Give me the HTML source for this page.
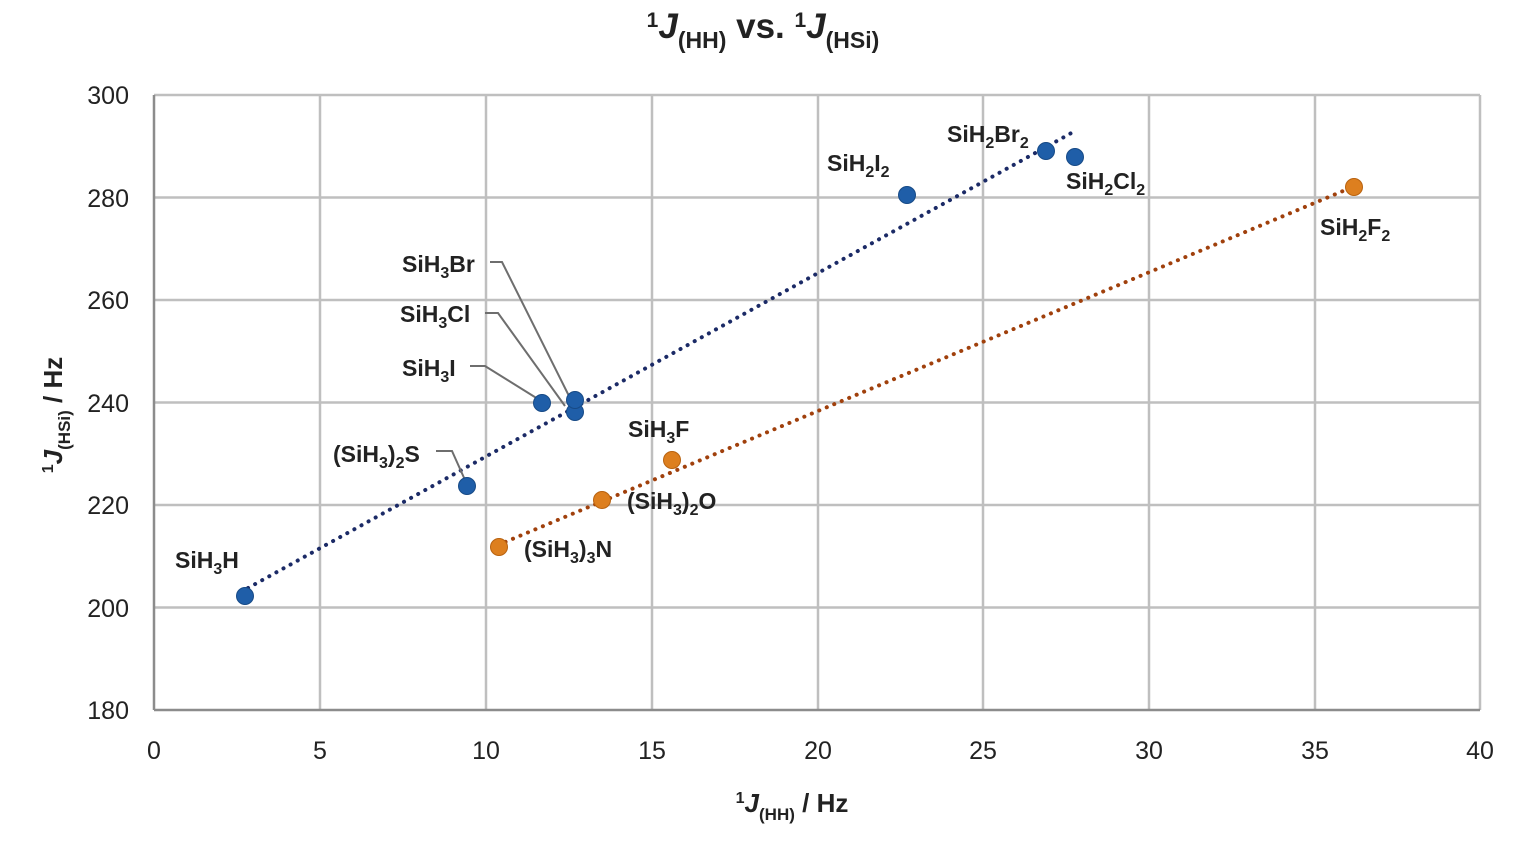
<!DOCTYPE html>
<html><head><meta charset="utf-8"><style>
html,body{margin:0;padding:0;background:#fff;}
svg{display:block;font-family:"Liberation Sans",sans-serif;}
.t{font-size:25px;fill:#222;}
.l{font-size:23px;font-weight:bold;fill:#222;}
.s{font-size:16px;}
</style></head><body>
<svg width="1522" height="853" viewBox="0 0 1522 853" xmlns="http://www.w3.org/2000/svg">
<rect width="1522" height="853" fill="#fff"/>
<g stroke="#bfbfbf" stroke-width="2.5">
<line x1="154" y1="95" x2="1480" y2="95"/>
<line x1="154" y1="197.5" x2="1480" y2="197.5"/>
<line x1="154" y1="300" x2="1480" y2="300"/>
<line x1="154" y1="402.5" x2="1480" y2="402.5"/>
<line x1="154" y1="505" x2="1480" y2="505"/>
<line x1="154" y1="607.5" x2="1480" y2="607.5"/>
<line x1="320" y1="95" x2="320" y2="710"/>
<line x1="486" y1="95" x2="486" y2="710"/>
<line x1="652" y1="95" x2="652" y2="710"/>
<line x1="818" y1="95" x2="818" y2="710"/>
<line x1="983" y1="95" x2="983" y2="710"/>
<line x1="1149" y1="95" x2="1149" y2="710"/>
<line x1="1315" y1="95" x2="1315" y2="710"/>
<line x1="1480" y1="95" x2="1480" y2="710"/>
</g>
<g stroke="#8c8c8c" stroke-width="2.5">
<line x1="154" y1="95" x2="154" y2="710"/>
<line x1="154" y1="710" x2="1480" y2="710"/>
</g>
<g class="t" text-anchor="end">
<text x="129" y="104">300</text><text x="129" y="207">280</text><text x="129" y="309">260</text>
<text x="129" y="412">240</text><text x="129" y="514">220</text><text x="129" y="617">200</text><text x="129" y="719">180</text>
</g>
<g class="t" text-anchor="middle">
<text x="154" y="759">0</text><text x="320" y="759">5</text><text x="486" y="759">10</text><text x="652" y="759">15</text>
<text x="818" y="759">20</text><text x="983" y="759">25</text><text x="1149" y="759">30</text><text x="1315" y="759">35</text><text x="1480" y="759">40</text>
</g>
<text x="763" y="38" text-anchor="middle" font-size="35" font-weight="bold" fill="#222"><tspan font-size="21" dy="-11">1</tspan><tspan font-style="italic" dy="11">J</tspan><tspan font-size="23" dy="10">(HH)</tspan><tspan dy="-10"> vs. </tspan><tspan font-size="21" dy="-11">1</tspan><tspan font-style="italic" dy="11">J</tspan><tspan font-size="23" dy="10">(HSi)</tspan></text>
<text x="792" y="812" text-anchor="middle" font-size="26" font-weight="bold" fill="#222"><tspan font-size="16" dy="-9">1</tspan><tspan font-style="italic" dy="9">J</tspan><tspan font-size="17" dy="8">(HH)</tspan><tspan dy="-8"> / Hz</tspan></text>
<text transform="translate(62,415) rotate(-90)" text-anchor="middle" font-size="26" font-weight="bold" fill="#222"><tspan font-size="16" dy="-9">1</tspan><tspan font-style="italic" dy="9">J</tspan><tspan font-size="17" dy="8">(HSi)</tspan><tspan dy="-8"> / Hz</tspan></text>
<line x1="248" y1="588" x2="1075" y2="131" stroke="#1b2a66" stroke-width="4" stroke-dasharray="0.1 8" stroke-linecap="round"/>
<line x1="498" y1="545" x2="1355" y2="186" stroke="#a0400c" stroke-width="4" stroke-dasharray="0.1 8" stroke-linecap="round"/>
<g stroke="#6e6e6e" stroke-width="2" fill="none">
<polyline points="490,262 502,262 570,398"/>
<polyline points="485,313 498,313 565,406"/>
<polyline points="470,366 485,366 538,399"/>
<polyline points="436,451 452,451 465,480"/>
</g>
<g fill="#1f5ea8" stroke="#174a86" stroke-width="1">
<circle cx="245" cy="596" r="8.5"/><circle cx="467" cy="486" r="8.5"/><circle cx="542" cy="403" r="8.5"/>
<circle cx="575" cy="412" r="8.5"/><circle cx="575" cy="400" r="8.5"/><circle cx="907" cy="195" r="8.5"/>
<circle cx="1046" cy="151" r="8.5"/><circle cx="1075" cy="157" r="8.5"/>
</g>
<g fill="#dd7f1f" stroke="#b8620f" stroke-width="1">
<circle cx="499" cy="547" r="8.5"/><circle cx="602" cy="500" r="8.5"/><circle cx="672" cy="460" r="8.5"/><circle cx="1354" cy="187" r="8.5"/>
</g>
<g class="l">
<text x="175" y="568">SiH<tspan class="s" dy="6">3</tspan><tspan dy="-6">H</tspan></text>
<text x="333" y="462">(SiH<tspan class="s" dy="6">3</tspan><tspan dy="-6">)</tspan><tspan class="s" dy="6">2</tspan><tspan dy="-6">S</tspan></text>
<text x="402" y="376">SiH<tspan class="s" dy="6">3</tspan><tspan dy="-6">I</tspan></text>
<text x="400" y="322">SiH<tspan class="s" dy="6">3</tspan><tspan dy="-6">Cl</tspan></text>
<text x="402" y="272">SiH<tspan class="s" dy="6">3</tspan><tspan dy="-6">Br</tspan></text>
<text x="628" y="437">SiH<tspan class="s" dy="6">3</tspan><tspan dy="-6">F</tspan></text>
<text x="627" y="509">(SiH<tspan class="s" dy="6">3</tspan><tspan dy="-6">)</tspan><tspan class="s" dy="6">2</tspan><tspan dy="-6">O</tspan></text>
<text x="524" y="557">(SiH<tspan class="s" dy="6">3</tspan><tspan dy="-6">)</tspan><tspan class="s" dy="6">3</tspan><tspan dy="-6">N</tspan></text>
<text x="827" y="171">SiH<tspan class="s" dy="6">2</tspan><tspan dy="-6">I</tspan><tspan class="s" dy="6">2</tspan></text>
<text x="947" y="142">SiH<tspan class="s" dy="6">2</tspan><tspan dy="-6">Br</tspan><tspan class="s" dy="6">2</tspan></text>
<text x="1066" y="189">SiH<tspan class="s" dy="6">2</tspan><tspan dy="-6">Cl</tspan><tspan class="s" dy="6">2</tspan></text>
<text x="1320" y="235">SiH<tspan class="s" dy="6">2</tspan><tspan dy="-6">F</tspan><tspan class="s" dy="6">2</tspan></text>
</g>
</svg>
</body></html>
